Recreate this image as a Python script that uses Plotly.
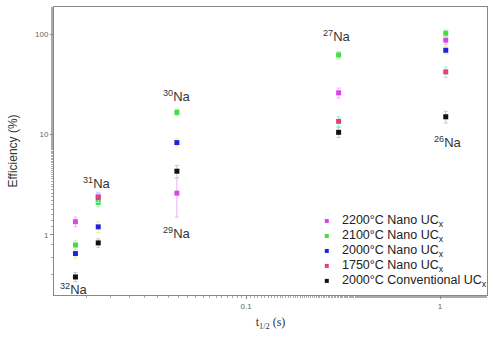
import math
import plotly.graph_objects as go

# half-lives (s) of the Na isotopes
isotopes = ["32", "31", "30", "27", "26"]
t_half = [0.0132, 0.0173, 0.044, 0.30, 1.07]

series_names = ["2200°C Nano UC<sub>x</sub>", "2100°C Nano UC<sub>x</sub>",
                "2000°C Nano UC<sub>x</sub>", "1750°C Nano UC<sub>x</sub>",
                "2000°C Conventional UC<sub>x</sub>"]
eff_2200 = [1.35, 2.4, 2.6, 26, 87]
eff_2100 = [0.79, 2.1, 16.6, 62, 102]
eff_2000 = [0.65, 1.2, 8.3, None, 69]
eff_1750 = [None, 2.35, None, 13.5, 42]
eff_conv = [0.38, 0.83, 4.3, 10.5, 15]
err_2200 = [0.15, 0.25, 1.1, 3, 8]
err_2100 = [0.08, 0.2, 1.2, 5, 8]
err_2000 = [0.07, 0.15, 0.8, None, 6]
err_1750 = [None, 0.25, None, 1.5, 5]
err_conv = [0.04, 0.08, 0.6, 1.2, 2]

colors = ["#d848e8", "#44dd44", "#2222dd", "#e8406a", "#111111"]
err_colors = ["#f0b0f8", "#b8f0b8", "#f0f090", "#90f0f0", "#c8c8c8"]

label_text = ["<sup>32</sup>Na", "<sup>31</sup>Na", "<sup>30</sup>Na", "<sup>29</sup>Na",
              "<sup>27</sup>Na", "<sup>26</sup>Na"]
label_x = [0.0129, 0.0170, 0.044, 0.044, 0.295, 1.10]
label_y = [0.29, 3.3, 24, 1.05, 95, 8.5]

fig = go.Figure()
all_y = [eff_2200, eff_2100, eff_2000, eff_1750, eff_conv]
all_e = [err_2200, err_2100, err_2000, err_1750, err_conv]
for name, ys, es, c, ec in zip(series_names, all_y, all_e, colors, err_colors):
    fig.add_trace(go.Scatter(
        x=t_half, y=ys, mode="markers", name=name, showlegend=False,
        marker=dict(color=c, size=5, symbol="square"),
        error_y=dict(type="data", array=es, color=ec, thickness=1, width=2),
    ))

for t, lx, ly in zip(label_text, label_x, label_y):
    fig.add_annotation(x=math.log10(lx), y=math.log10(ly), xref="x", yref="y", text=t,
                       showarrow=False,
                       font=dict(size=13, color="#333333", family="Liberation Sans"))

# manual legend (compact row spacing like the reference)
leg_y = [0.257, 0.205, 0.153, 0.101, 0.049]
for name, c, ly in zip(series_names, colors, leg_y):
    fig.add_shape(type="rect", xref="paper", yref="paper", xsizemode="pixel", ysizemode="pixel",
                  xanchor=0.63, yanchor=ly, x0=-2, x1=2, y0=-2, y1=2,
                  fillcolor=c, line=dict(width=0))
    fig.add_annotation(x=0.66, y=ly, xref="paper", yref="paper", text=name, showarrow=False,
                       xanchor="left", yanchor="middle",
                       font=dict(size=12.5, color="#222222", family="Liberation Sans"))

axis_common = dict(type="log", showgrid=False, showline=True, linecolor="#888888",
                   linewidth=1, mirror=True, ticks="outside", ticklen=3,
                   tickcolor="#888888", zeroline=False,
                   tickfont=dict(size=8, color="#666666", family="Liberation Sans"),
                   minor=dict(ticks="outside", ticklen=2, tickcolor="#aaaaaa"))

fig.update_xaxes(**axis_common, range=[-1.99, 0.242], tickvals=[0.1, 1], ticktext=["0.1", "1"],
                 title=dict(text="t<sub>1/2</sub> (s)", font=dict(size=12, color="#333333",
                                                                 family="Liberation Serif"), standoff=8))
fig.update_yaxes(**axis_common, range=[-0.60, 2.27], tickvals=[1, 10, 100], ticktext=["1", "10", "100"],
                 title=dict(text="Efficiency (%)", font=dict(size=12, color="#333333",
                                                             family="Liberation Sans"), standoff=14))

fig.update_layout(
    width=498, height=338,
    margin=dict(l=54, r=11, t=7, b=43, autoexpand=False),
    paper_bgcolor="white", plot_bgcolor="white",
    font=dict(family="Liberation Sans"),
    showlegend=False,
)

fig.write_html("out.html")
